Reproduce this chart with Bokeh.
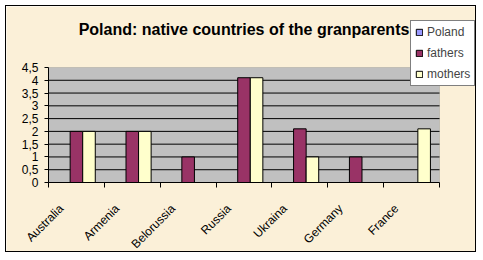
import numpy as np
from bokeh.plotting import figure
from bokeh.models import FixedTicker, Legend, LegendItem, BoxAnnotation, Label
from bokeh.embed import file_html
from bokeh.resources import INLINE

countries = ["Australia", "Armenia", "Belorussia", "Russia", "Ukraina", "Germany", "France"]
poland = [0, 0, 0, 0, 0, 0, 0]
fathers = [2, 2, 1, 4.1, 2.1, 1, 0]
mothers = [2, 2, 0, 4.1, 1, 0, 2.1]
series_names = ["Poland", "fathers", "mothers"]
series_colors = ["#9999FF", "#993366", "#FFFFCC"]
y_ticks = [0, 0.5, 1, 1.5, 2, 2.5, 3, 3.5, 4, 4.5]
y_tick_labels = ["0", "0,5", "1", "1,5", "2", "2,5", "3", "3,5", "4", "4,5"]
title_text = "Poland: native countries of the granparents"

FONT = "Liberation Sans"
BG = "#FBF0D8"

# layout (canvas pixels)
W, H = 471, 247
LEFT, BOTTOM = 42, 71
PLOT_RIGHT, PLOT_TOP = 433, 61

n = len(countries)
ymax = y_ticks[-1]
centers = np.arange(n) + 0.5
bounds = list(range(n + 1))
label_pos = [float(c - 0.27) for c in centers]

plot_w = PLOT_RIGHT - LEFT
plot_h = H - BOTTOM - PLOT_TOP
x_start = -n * LEFT / plot_w
x_end = n * (W - LEFT) / plot_w
y_start = -ymax * BOTTOM / plot_h
y_end = ymax * (H - BOTTOM) / plot_h

p = figure(width=W, height=H, x_range=(x_start, x_end), y_range=(y_start, y_end),
           output_backend="svg", toolbar_location=None, title=None,
           min_border_left=0, min_border_right=0, min_border_top=0, min_border_bottom=0,
           margin=(5, 5, 5, 5), styles={"border": "1px solid black"})
p.border_fill_color = BG
p.background_fill_color = BG
p.outline_line_color = None

# plot area
p.add_layout(BoxAnnotation(left=0, right=n, bottom=0, top=ymax, fill_color="#C0C0C0",
                           fill_alpha=1, line_color="#808080", line_width=1, level="underlay"))
p.segment(x0=0, x1=n, y0=y_ticks[1:-1], y1=y_ticks[1:-1], line_color="black", line_width=1)

bw = 0.225
renderers = []
for i, (vals, name, col) in enumerate(zip([poland, fathers, mothers], series_names, series_colors)):
    r = p.vbar(x=centers + (i - 1) * bw, top=vals, bottom=0, width=bw,
               fill_color=col, line_color="black", line_width=1)
    renderers.append((name, r))

# title
p.add_layout(Label(x=n / 2, y=5.99, text=title_text, text_align="center",
                   text_baseline="alphabetic", text_font=FONT, text_font_size="16px",
                   text_font_style="bold", text_color="black"))

# y axis
p.yaxis.fixed_location = 0
p.yaxis.bounds = (0, ymax)
p.yaxis.ticker = FixedTicker(ticks=y_ticks)
p.yaxis.major_label_overrides = {t: l for t, l in zip(y_ticks, y_tick_labels)}
p.yaxis.minor_tick_line_color = None
p.yaxis.major_tick_out = 4
p.yaxis.major_tick_in = 0
p.yaxis.major_label_standoff = 6
p.yaxis.axis_line_color = "black"
p.yaxis.major_label_text_font = FONT
p.yaxis.major_label_text_font_size = "12px"
p.yaxis.major_label_text_color = "black"

# x axis
p.xaxis.fixed_location = 0
p.xaxis.bounds = (0, n)
p.xaxis.ticker = FixedTicker(ticks=label_pos, minor_ticks=bounds)
p.xaxis.major_label_overrides = {lp: name for lp, name in zip(label_pos, countries)}
p.xaxis.major_tick_line_color = None
p.xaxis.major_tick_out = 0
p.xaxis.minor_tick_out = 5
p.xaxis.minor_tick_in = 0
p.xaxis.minor_tick_line_color = "black"
p.xaxis.axis_line_color = "black"
p.xaxis.major_label_standoff = 19
p.xaxis.major_label_orientation = np.pi / 4
p.xaxis.major_label_text_font = FONT
p.xaxis.major_label_text_font_size = "12px"
p.xaxis.major_label_text_color = "black"

p.xgrid.grid_line_color = None
p.ygrid.grid_line_color = None

legend = Legend(items=[LegendItem(label=nm, renderers=[r]) for nm, r in renderers],
                location=(404, 167))
legend.background_fill_color = "white"
legend.background_fill_alpha = 1
legend.border_line_color = "black"
legend.label_text_font = FONT
legend.label_text_font_size = "12px"
legend.glyph_width = 8
legend.glyph_height = 8
legend.label_height = 14
legend.label_standoff = 4
legend.spacing = 7
legend.padding = 4
legend.margin = 0
p.add_layout(legend, "center")

open("out.html", "w").write(file_html(p, INLINE))
